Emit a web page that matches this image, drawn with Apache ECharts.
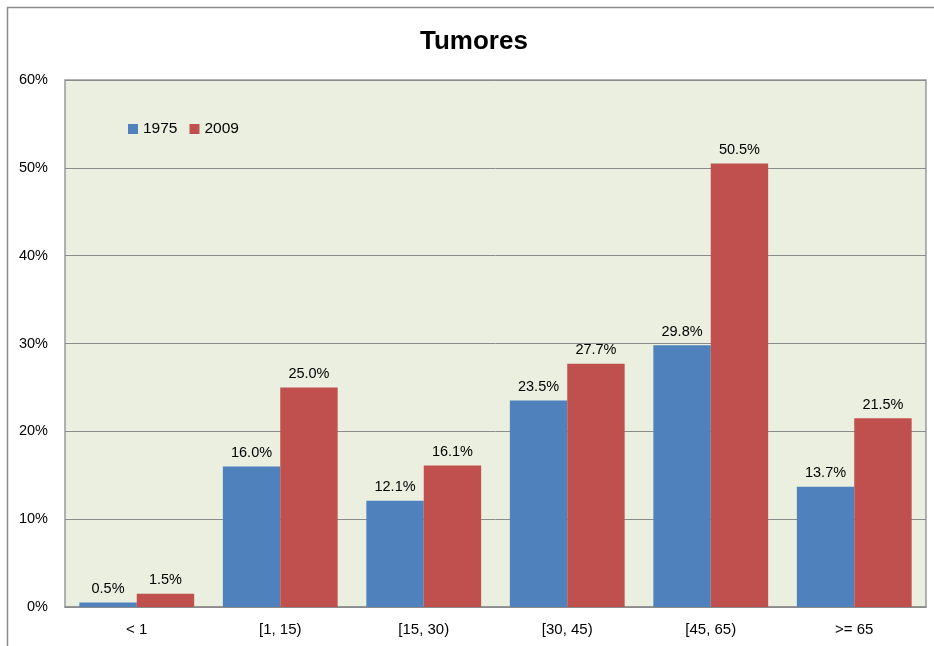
<!DOCTYPE html>
<html><head><meta charset="utf-8">
<script src="https://cdn.jsdelivr.net/npm/echarts@6/dist/echarts.min.js"></script>
<style>html,body{margin:0;padding:0;background:#fff}#c{width:934px;height:646px}</style>
</head><body><div id="c"></div>
<script>
const categories = ['< 1', '[1, 15)', '[15, 30)', '[30, 45)', '[45, 65)', '>= 65'];
const s1975 = [0.5, 16.0, 12.1, 23.5, 29.8, 13.7];
const s2009 = [1.5, 25.0, 16.1, 27.7, 50.5, 21.5];
const seriesNames = ['1975', '2009'];
const FONT = '"Liberation Sans", "DejaVu Sans", sans-serif';
const chart = echarts.init(document.getElementById('c'));
const lbl = {show: true, position: 'top', distance: 6, fontFamily: FONT, fontSize: 14.5, color: '#000',
  formatter: p => p.value.toFixed(1) + '%'};
chart.setOption({
  animation: false,
  graphic: [{type: 'rect', shape: {x: 7.5, y: 7.5, width: 940, height: 660},
    style: {fill: 'none', stroke: '#8c8c8c', lineWidth: 1.5}, z: 100}],
  title: {text: 'Tumores', left: 415, top: 24,
    textStyle: {fontFamily: FONT, fontSize: 26, fontWeight: 'bold', color: '#000'}},
  legend: {data: seriesNames, left: 123, top: 116, itemWidth: 10, itemHeight: 10, itemGap: 12,
    icon: 'rect', textStyle: {fontFamily: FONT, fontSize: 15.5, color: '#000'}},
  grid: {left: 65, right: 8, top: 80, bottom: 39, show: true, backgroundColor: '#eaefdf',
    borderColor: '#9a9a9a', borderWidth: 1.5},
  xAxis: {type: 'category', data: categories,
    axisLine: {lineStyle: {color: '#8c8c8c', width: 1.5}}, axisTick: {show: false},
    axisLabel: {fontFamily: FONT, fontSize: 15, color: '#000', margin: 15}},
  yAxis: {type: 'value', min: 0, max: 60, interval: 10,
    axisLine: {show: false}, axisTick: {show: false},
    splitLine: {lineStyle: {color: '#8c8c8c', width: 1}},
    axisLabel: {fontFamily: FONT, fontSize: 14.5, color: '#000', margin: 17, formatter: v => v + '%'}},
  series: [
    {name: seriesNames[0], type: 'bar', data: s1975, barGap: '0%', barCategoryGap: '20%',
     itemStyle: {color: '#4f81bd'}, label: lbl},
    {name: seriesNames[1], type: 'bar', data: s2009,
     itemStyle: {color: '#c0504d'}, label: lbl}
  ]
});
</script></body></html>
